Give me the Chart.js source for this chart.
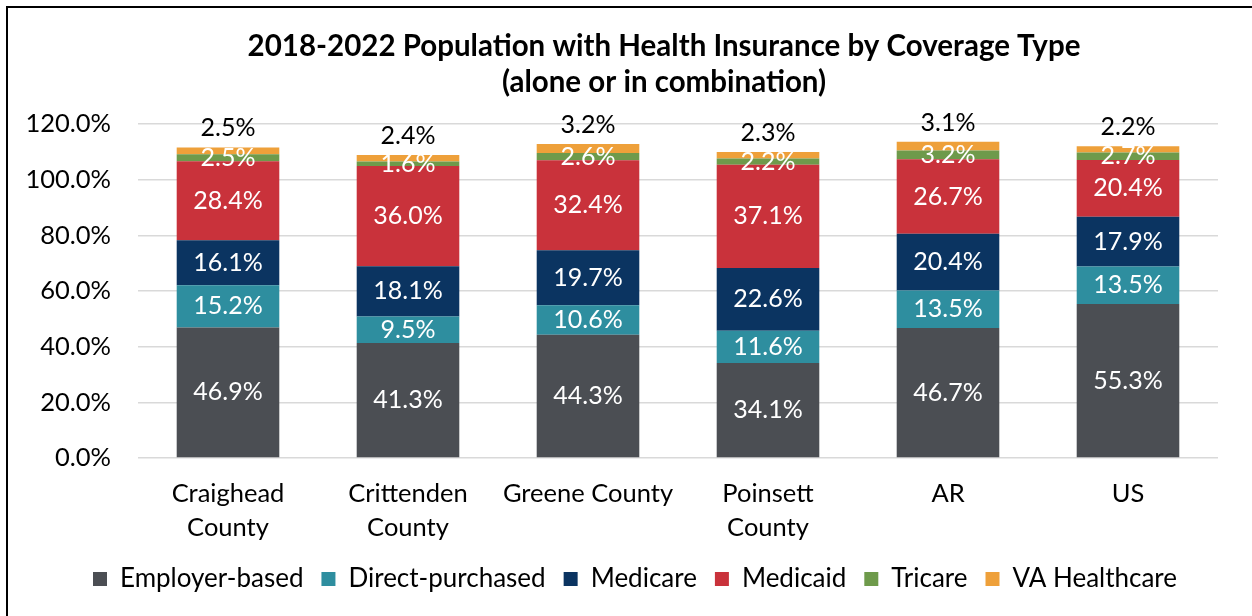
<!DOCTYPE html>
<html>
<head>
<meta charset="utf-8">
<script src="https://cdn.jsdelivr.net/npm/chart.js@4"></script>
<style>
  html, body { margin: 0; padding: 0; background: #fff; overflow: hidden; }
  #wrap { position: relative; width: 1252px; height: 616px; }
  #frame { position: absolute; left: 6px; top: 6px; width: 1400px; height: 800px; border: 2px solid #000; }
  #myChart { position: absolute; left: 0; top: 0; }
</style>
</head>
<body>
<div id="wrap">
  <div id="frame"></div>
  <canvas id="myChart" width="1252" height="616"></canvas>
</div>
<script>
var categories = [["Craighead", "County"], ["Crittenden", "County"], "Greene County", ["Poinsett", "County"], "AR", "US"];
var employer = [46.9, 41.3, 44.3, 34.1, 46.7, 55.3];
var directPurchased = [15.2, 9.5, 10.6, 11.6, 13.5, 13.5];
var medicare = [16.1, 18.1, 19.7, 22.6, 20.4, 17.9];
var medicaid = [28.4, 36.0, 32.4, 37.1, 26.7, 20.4];
var tricare = [2.5, 1.6, 2.6, 2.2, 3.2, 2.7];
var vaHealthcare = [2.5, 2.4, 3.2, 2.3, 3.1, 2.2];
var titleLines = ["2018-2022 Population with Health Insurance by Coverage Type", "(alone or in combination)"];

var FONT = "Lato";

// white value labels inside each segment, the last series gets its label above the bar
var segmentLabels = {
    id: "segmentLabels",
    afterDatasetsDraw: function (chart) {
        var ctx = chart.ctx;
        ctx.save();
        ctx.font = "25px " + FONT;
        ctx.textAlign = "center";
        ctx.textBaseline = "middle";
        var last = chart.data.datasets.length - 1;
        chart.data.datasets.forEach(function (ds, i) {
            var meta = chart.getDatasetMeta(i);
            meta.data.forEach(function (bar, j) {
                var txt = ds.data[j].toFixed(1) + "%";
                if (i === last) {
                    ctx.fillStyle = "#000";
                    ctx.fillText(txt, bar.x, bar.y - 19);
                } else {
                    ctx.fillStyle = "#fff";
                    ctx.fillText(txt, bar.x, (bar.y + bar.base) / 2);
                }
            });
        });
        ctx.restore();
    }
};

var chartTitle = {
    id: "chartTitle",
    afterDraw: function (chart) {
        var ctx = chart.ctx;
        ctx.save();
        ctx.font = "bold 29.5px " + FONT;
        ctx.fillStyle = "#000";
        ctx.textAlign = "center";
        ctx.textBaseline = "middle";
        ctx.fillText(titleLines[0], 664, 46);
        ctx.fillText(titleLines[1], 664, 82);
        ctx.restore();
    }
};

// legend sits centred under the plot area rather than the whole canvas
var legendShift = {
    id: "legendShift",
    afterLayout: function (chart) {
        if (chart.legend) chart.legend.left += 32;
    }
};

new Chart("myChart", {
    type: "bar",
    data: {
        labels: categories,
        datasets: [
            {label: "Employer-based", data: employer, backgroundColor: "#4b4e53"},
            {label: "Direct-purchased", data: directPurchased, backgroundColor: "#2e8e9f"},
            {label: "Medicare", data: medicare, backgroundColor: "#0b3461"},
            {label: "Medicaid", data: medicaid, backgroundColor: "#c9323b"},
            {label: "Tricare", data: tricare, backgroundColor: "#6e9a4b"},
            {label: "VA Healthcare", data: vaHealthcare, backgroundColor: "#eea03a"}
        ]
    },
    options: {
        responsive: false,
        animation: false,
        layout: {padding: {left: 20, right: 34, top: 124, bottom: 14}},
        datasets: {bar: {categoryPercentage: 1, barPercentage: 0.57}},
        scales: {
            x: {
                stacked: true,
                grid: {display: false},
                border: {display: false},
                ticks: {color: "#000", font: {family: FONT, size: 25.5, lineHeight: 1.33}, padding: 11, maxRotation: 0},
                afterFit: function (s) { s.height = 90; }
            },
            y: {
                stacked: true,
                min: 0,
                max: 120,
                border: {display: false},
                grid: {color: "#d9d9d9", lineWidth: 1.5, drawTicks: false},
                ticks: {
                    stepSize: 20,
                    color: "#000",
                    padding: 27,
                    font: {family: FONT, size: 25.5},
                    callback: function (v) { return v.toFixed(1) + "%"; }
                },
                afterFit: function (s) { s.width = 118; }
            }
        },
        plugins: {
            title: {display: false},
            tooltip: {enabled: false},
            legend: {
                position: "bottom",
                labels: {
                    color: "#000",
                    font: {family: FONT, size: 26},
                    boxWidth: 14,
                    boxHeight: 14,
                    padding: 18
                }
            }
        }
    },
    plugins: [segmentLabels, chartTitle, legendShift]
});
</script>
</body>
</html>
